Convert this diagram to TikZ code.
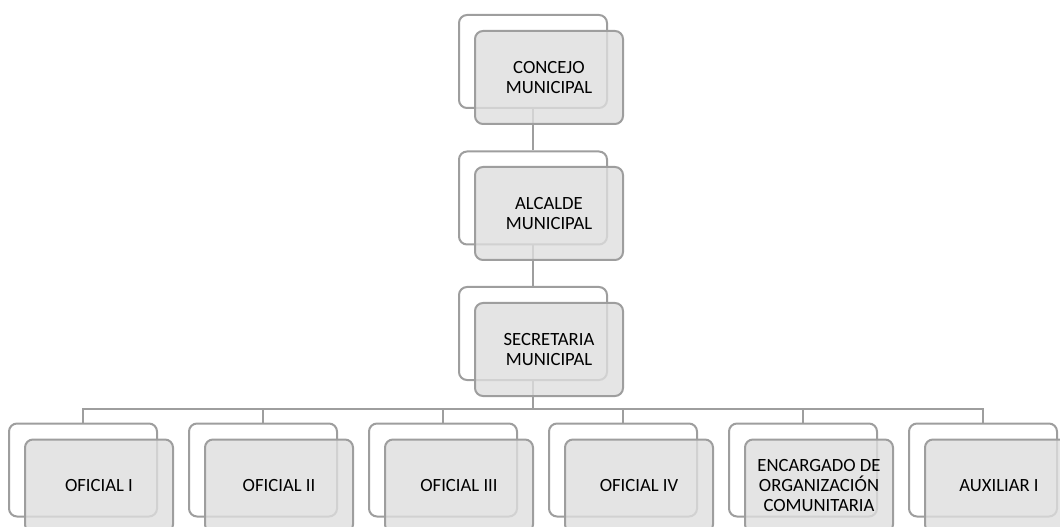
\documentclass[tikz,border=0pt]{standalone}
\usepackage{fontspec}
\setmainfont{Carlito}
\usepackage{tikz}
\definecolor{edge}{HTML}{9E9E9E}
\definecolor{card}{HTML}{DEDEDE}
\definecolor{ink}{HTML}{000000}
\tikzset{
  back/.style={draw=edge, fill=white, line width=1.5pt, rounded corners=6pt, minimum width=111pt, minimum height=69.75pt, inner sep=0pt},
  front/.style={draw=edge, fill=card, fill opacity=0.8, text opacity=1, line width=1.5pt, rounded corners=6pt, minimum width=111pt, minimum height=69.75pt, inner sep=0pt, text=ink, align=center, font=\fontsize{14}{15}\selectfont},
  link/.style={draw=edge, line width=1.5pt},
}
\begin{document}
\begin{tikzpicture}[x=0.75pt, y=-0.75pt]
  \useasboundingbox (0,0) rectangle (1060,527);
  \coordinate (bus) at (533,409);
  % top three levels
  \node[back] (cmb) at (533,61.5) {};
  \node[back] (amb) at (533,198) {};
  \node[back] (smb) at (533,333.5) {};
  \draw[link] (cmb.south) -- (amb.north) (amb.south) -- (smb.north) (smb.south) -- (bus);
  \node[front] (cm) at (549,77.5) {CONCEJO\\MUNICIPAL};
  \node[front] (am) at (549,213.5) {ALCALDE\\MUNICIPAL};
  \node[front] (sm) at (549,349.5) {SECRETARIA\\MUNICIPAL};
  % bottom row
  \foreach \i/\txt in {1/OFICIAL I, 2/OFICIAL II, 3/OFICIAL III, 4/OFICIAL IV,
      5/{ENCARGADO DE\\ORGANIZACIÓN\\COMUNITARIA}, 6/AUXILIAR I} {
    \node[back] (o\i b) at (-97+180*\i,470) {};
    \draw[link] (bus) -| (o\i b.north);
    \node[front] (o\i) at (-81+180*\i,486) {\txt};
  }
\end{tikzpicture}
\end{document}
